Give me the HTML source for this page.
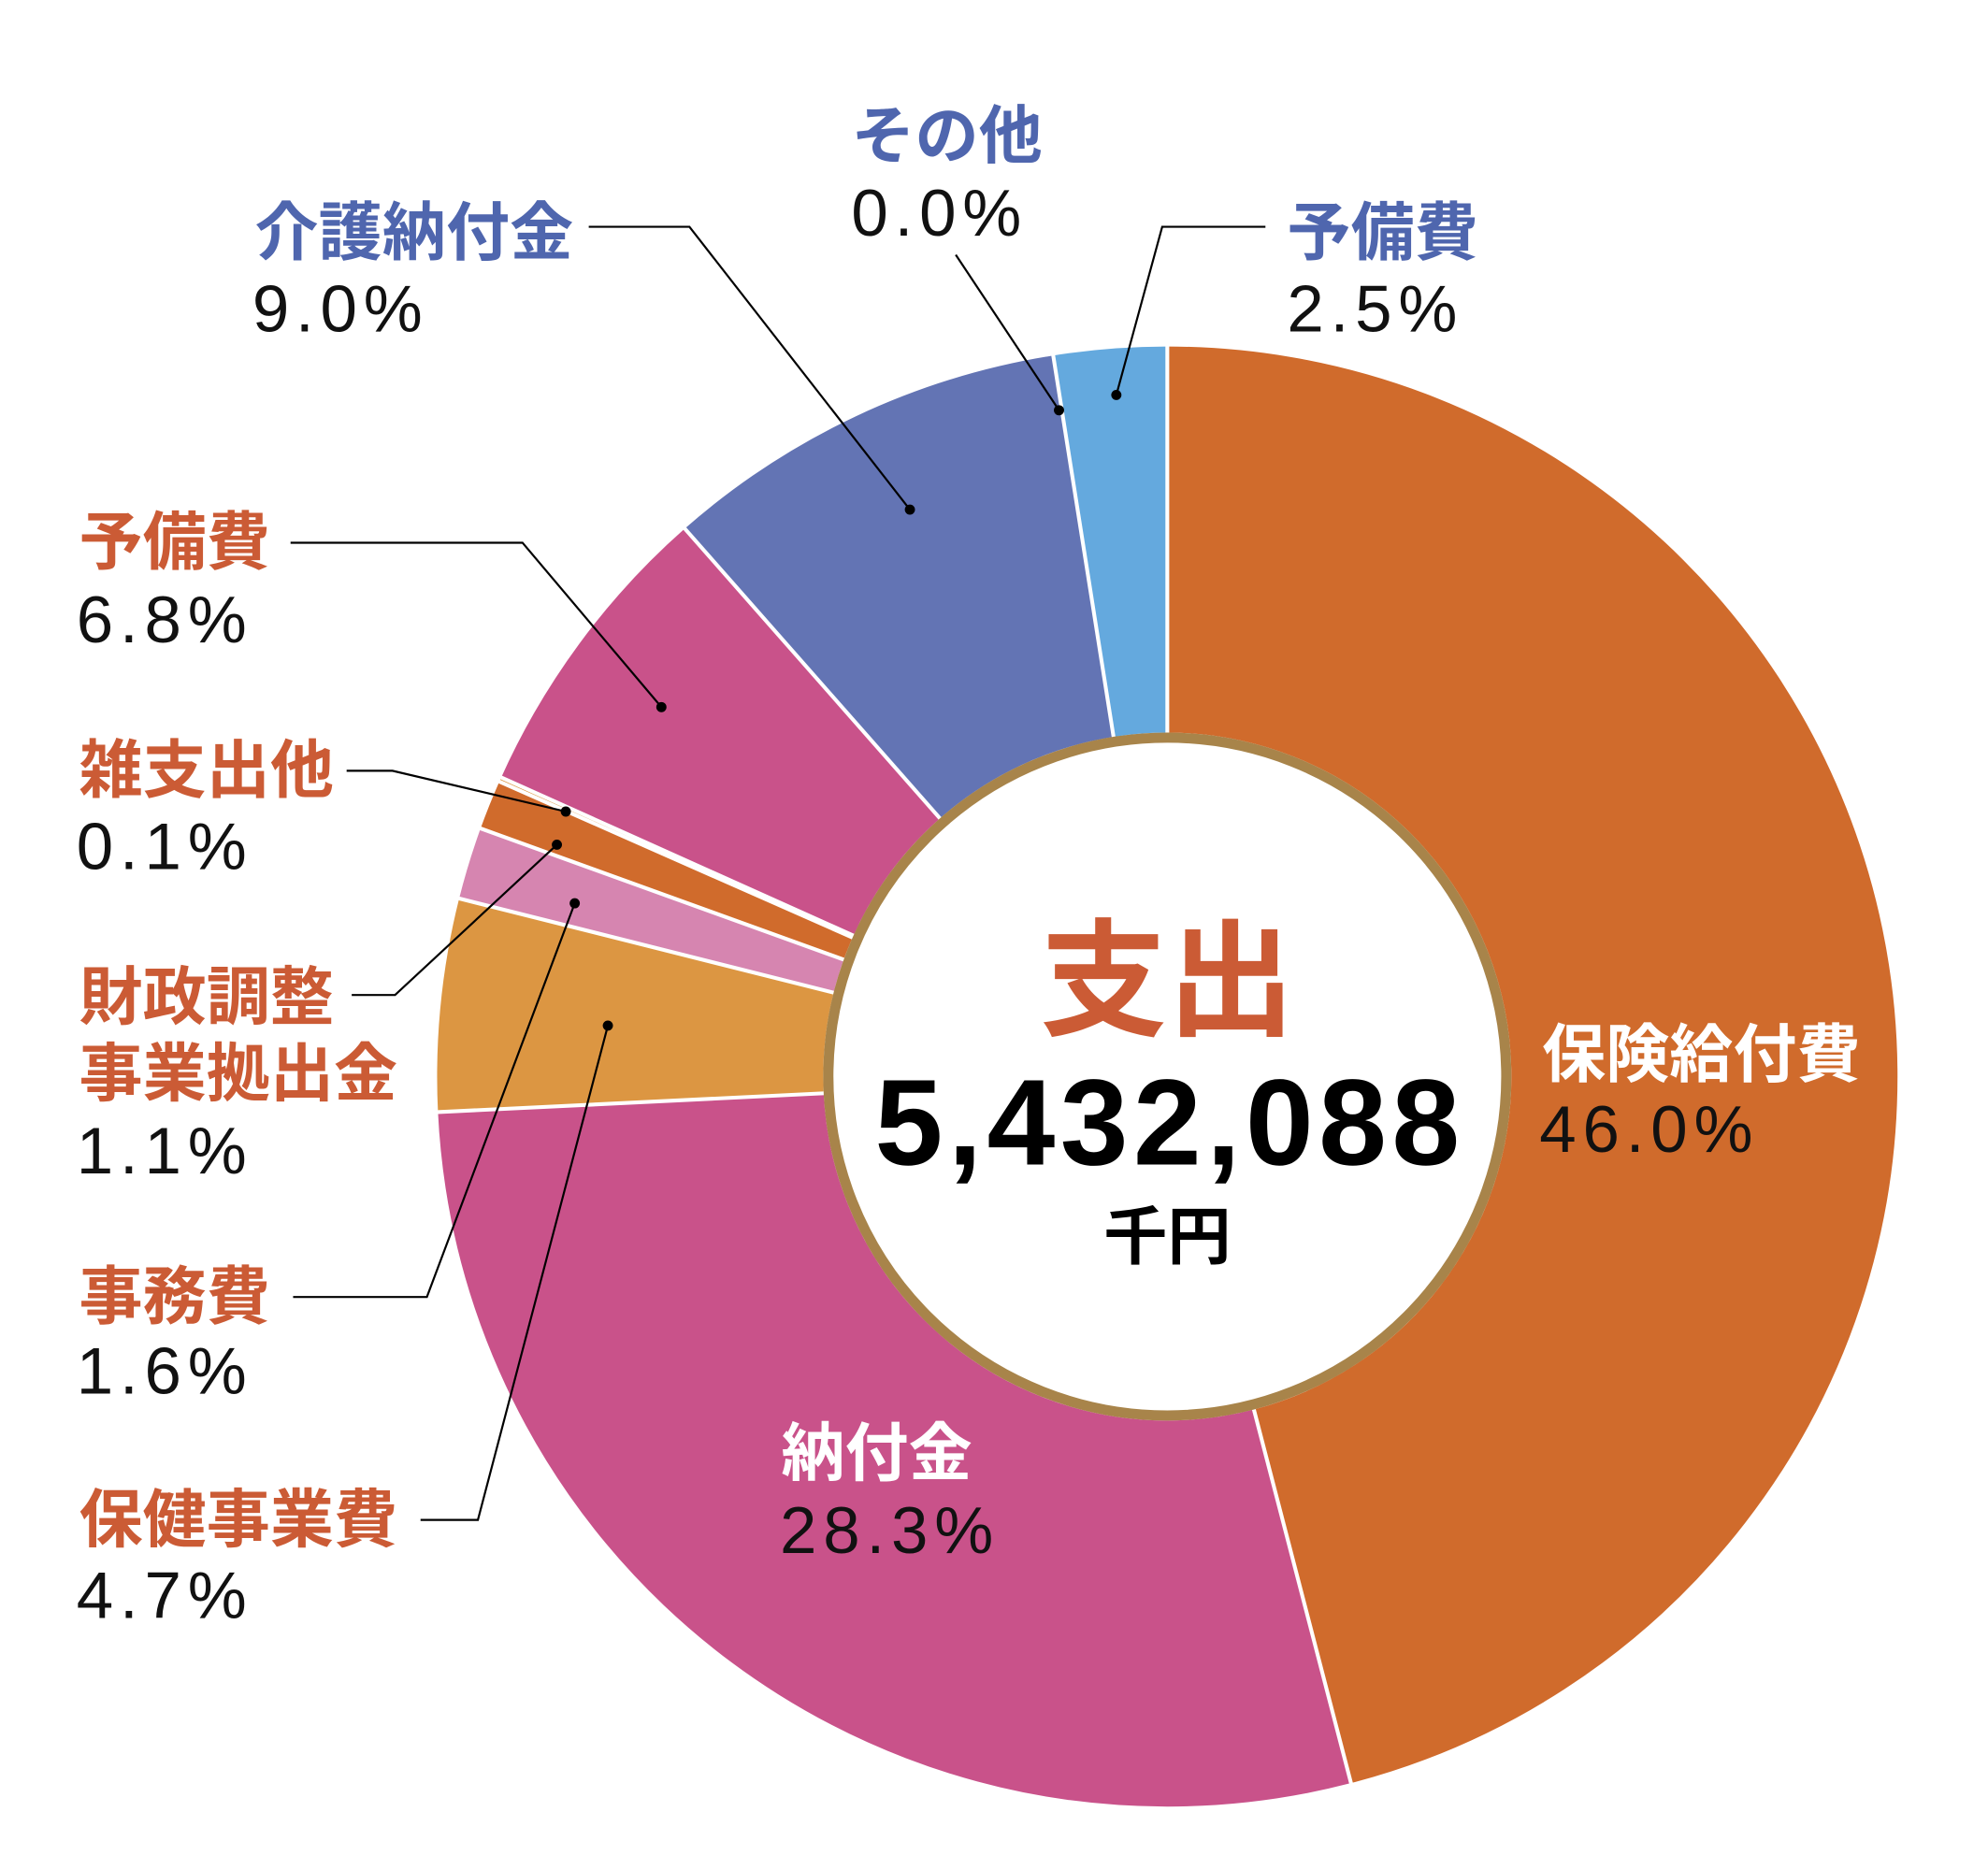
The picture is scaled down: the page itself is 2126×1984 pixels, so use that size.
<!DOCTYPE html>
<html><head><meta charset="utf-8"><style>
html,body{margin:0;padding:0;background:#fff;}
svg{display:block;}
text{font-family:"Liberation Sans","Noto Sans CJK JP",sans-serif;}
.j{font-weight:bold;font-size:50px;}
.p{font-size:52px;letter-spacing:5px;fill:#111;}
.b{fill:#4F66AE}.r{fill:#CB5B35}
</style></head><body>
<svg width="2126" height="1984" viewBox="0 0 1560 1456" preserveAspectRatio="none">
<g transform="rotate(-90 916 845)" fill="none" stroke-width="303">
<circle cx="916" cy="845" r="421.5" pathLength="100.1" stroke="#D06B2C" stroke-dasharray="46 100.1" stroke-dashoffset="0"/>
<circle cx="916" cy="845" r="421.5" pathLength="100.1" stroke="#C9528A" stroke-dasharray="28.3 100.1" stroke-dashoffset="-46"/>
<circle cx="916" cy="845" r="421.5" pathLength="100.1" stroke="#DC9642" stroke-dasharray="4.7 100.1" stroke-dashoffset="-74.3"/>
<circle cx="916" cy="845" r="421.5" pathLength="100.1" stroke="#D685B0" stroke-dasharray="1.6 100.1" stroke-dashoffset="-79"/>
<circle cx="916" cy="845" r="421.5" pathLength="100.1" stroke="#D06B2C" stroke-dasharray="1.1 100.1" stroke-dashoffset="-80.6"/>
<circle cx="916" cy="845" r="421.5" pathLength="100.1" stroke="#DC9642" stroke-dasharray="0.1 100.1" stroke-dashoffset="-81.7"/>
<circle cx="916" cy="845" r="421.5" pathLength="100.1" stroke="#C9528A" stroke-dasharray="6.8 100.1" stroke-dashoffset="-81.8"/>
<circle cx="916" cy="845" r="421.5" pathLength="100.1" stroke="#6374B4" stroke-dasharray="9 100.1" stroke-dashoffset="-88.6"/>
<circle cx="916" cy="845" r="421.5" pathLength="100.1" stroke="#64A9DE" stroke-dasharray="2.5 100.1" stroke-dashoffset="-97.6"/>
</g>
<g stroke="#fff" stroke-width="3">
<line x1="916" y1="845" x2="916" y2="268"/>
<line x1="916" y1="845" x2="916" y2="268" transform="rotate(165.43 916 845)"/>
<line x1="916" y1="845" x2="916" y2="268" transform="rotate(267.21 916 845)"/>
<line x1="916" y1="845" x2="916" y2="268" transform="rotate(284.12 916 845)"/>
<line x1="916" y1="845" x2="916" y2="268" transform="rotate(289.87 916 845)"/>
<line x1="916" y1="845" x2="916" y2="268" transform="rotate(293.83 916 845)"/>
<line x1="916" y1="845" x2="916" y2="268" transform="rotate(294.19 916 845)"/>
<line x1="916" y1="845" x2="916" y2="268" transform="rotate(318.64 916 845)"/>
<line x1="916" y1="845" x2="916" y2="268" transform="rotate(351.01 916 845)"/>
</g>
<circle cx="916" cy="845" r="266" fill="#fff" stroke="#A8844A" stroke-width="8"/>
<text x="916" y="805" text-anchor="middle" font-size="100" font-weight="bold" fill="#CB5B35">支出</text>
<text x="918" y="914" text-anchor="middle" font-size="96" font-weight="bold" fill="#000" letter-spacing="4">5,432,088</text>
<text x="916" y="988" text-anchor="middle" font-size="50" font-weight="bold" fill="#000">千円</text>
<g stroke="#000" stroke-width="1.6" fill="none">
<polyline points="462,178 541,178 714,400"/>
<polyline points="750,200 831,322"/>
<polyline points="993,178 912,178 876,310"/>
<polyline points="228,426 410,426 519,555"/>
<polyline points="272,605 308,605 444,637"/>
<polyline points="276,781 310,781 437,663"/>
<polyline points="230,1018 335,1018 451,709"/>
<polyline points="330,1193 375,1193 477,805"/>
</g>
<g fill="#000">
<circle cx="714" cy="400" r="4"/><circle cx="831" cy="322" r="4"/><circle cx="876" cy="310" r="4"/>
<circle cx="519" cy="555" r="4"/><circle cx="444" cy="637" r="4"/><circle cx="437" cy="663" r="4"/>
<circle cx="451" cy="709" r="4"/><circle cx="477" cy="805" r="4"/>
</g>
<text class="j b" x="668" y="124">その他</text><text class="p" x="668" y="185">0.0%</text>
<text class="j b" x="200" y="200">介護納付金</text><text class="p" x="198" y="260">9.0%</text>
<text class="j b" x="1010" y="200">予備費</text><text class="p" x="1010" y="260">2.5%</text>
<text class="j r" x="62" y="443">予備費</text><text class="p" x="60" y="504">6.8%</text>
<text class="j r" x="62" y="622">雑支出他</text><text class="p" x="60" y="682">0.1%</text>
<text class="j r" x="62" y="800">財政調整</text><text class="j r" x="62" y="860">事業拠出金</text><text class="p" x="60" y="921">1.1%</text>
<text class="j r" x="62" y="1035">事務費</text><text class="p" x="60" y="1094">1.6%</text>
<text class="j r" x="62" y="1210">保健事業費</text><text class="p" x="60" y="1270">4.7%</text>
<text class="j" x="1210" y="845" fill="#fff">保険給付費</text><text class="p" x="1208" y="904">46.0%</text>
<text class="j" x="613" y="1158" fill="#fff">納付金</text><text class="p" x="612" y="1219">28.3%</text>
</svg>
</body></html>
